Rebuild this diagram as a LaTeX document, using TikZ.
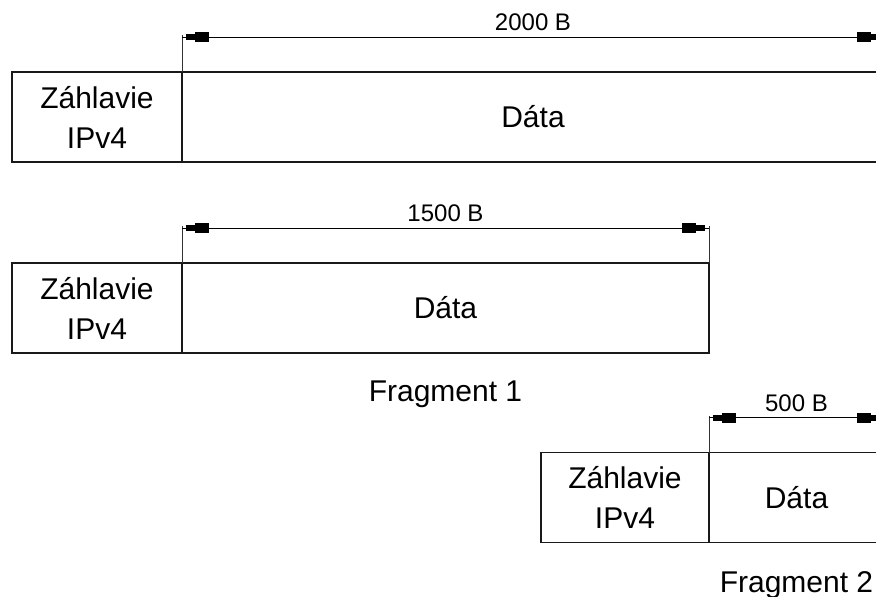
\documentclass[tikz,border=0pt]{standalone}
\usepackage{fontspec}
\setmainfont{Liberation Sans}
\usetikzlibrary{calc,positioning}
\begin{document}
\begin{tikzpicture}[x=1pt,y=-1pt,
  box/.style={draw=black!90, line width=1.6pt, rectangle, minimum height=90pt,
    inner sep=0pt, outer sep=0pt, font=\fontsize{30}{40}\selectfont, align=center},
  extline/.style={draw=black!80, line width=1pt},
  dimline/.style={draw=black, line width=1pt},
  tipfill/.style={fill=black},
  dimlabel/.style={font=\fontsize{24}{28}\selectfont, inner sep=0pt},
  caption/.style={font=\fontsize{30}{36}\selectfont, inner sep=0pt, anchor=base}
]
\useasboundingbox (0,0) rectangle (876,597);

% original datagram
\node[box, minimum width=170pt] (h1) at (97,117) {Záhlavie\\IPv4};
\node[box, minimum width=702pt, right=0pt of h1] (d1) {Dáta};

% fragment 1
\node[box, minimum width=170pt] (h2) at (97,308) {Záhlavie\\IPv4};
\node[box, minimum width=527pt, right=0pt of h2] (d2) {Dáta};
\node[caption] (f1) at ($(d2.south)+(0,48)$) {Fragment 1};

% fragment 2
\node[box, minimum width=168pt] (h3) at (625,497.5) {Záhlavie\\IPv4};
\node[box, minimum width=175pt, right=0pt of h3] (d3) {Dáta};
\node[caption] (f2) at ($(d3.south)+(0,50)$) {Fragment 2};

% dimension lines: extension lines, the line itself and stepped arrowheads
\foreach \b/\n in {d1/1,d2/2,d3/3}{
  \coordinate (a\n) at ($(\b.north west)+(0,-35)$);
  \coordinate (b\n) at ($(\b.north east)+(0,-35)$);
  \coordinate (at\n) at ($(\b.north west)+(0,-37)$);
  \coordinate (bt\n) at ($(\b.north east)+(0,-37)$);
  \draw[extline] (\b.north west) -- (at\n);
  \draw[extline] (\b.north east) -- (bt\n);
  \draw[dimline] (a\n) -- (b\n);
  \fill[tipfill] ($(a\n)+(4,-3)$) rectangle ($(a\n)+(14,3)$);
  \fill[tipfill] ($(a\n)+(13,-5)$) rectangle ($(a\n)+(27,5)$);
  \fill[tipfill] ($(b\n)+(-4,-3)$) rectangle ($(b\n)+(-14,3)$);
  \fill[tipfill] ($(b\n)+(-13,-5)$) rectangle ($(b\n)+(-27,5)$);
}
\path (a1) -- (b1) node[dimlabel, midway, above=6pt] (l1) {2000 B};
\path (a2) -- (b2) node[dimlabel, midway, above=6pt] (l2) {1500 B};
\path (a3) -- (b3) node[dimlabel, midway, above=6pt] (l3) {500 B};
\end{tikzpicture}
\end{document}
